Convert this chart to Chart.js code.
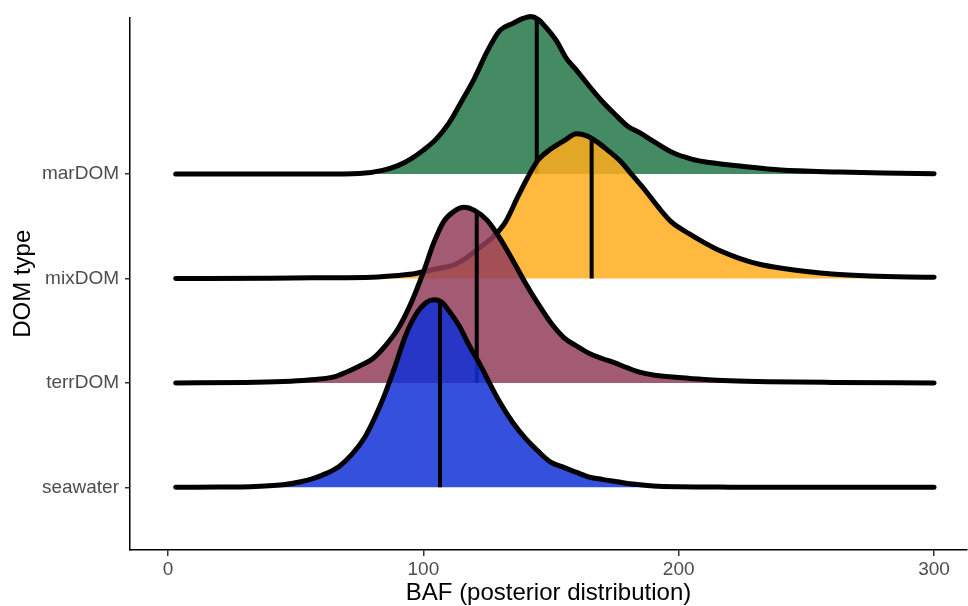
<!DOCTYPE html>
<html>
<head>
<meta charset="utf-8">
<script src="https://cdn.jsdelivr.net/npm/chart.js@4.4.1/dist/chart.umd.min.js"></script>
<style>
  html, body { margin: 0; padding: 0; background: #ffffff; }
  #wrap { width: 968px; height: 606px; }
</style>
</head>
<body>
<div id="wrap"><canvas id="c" width="968" height="606"></canvas></div>
<script>
// ---- data ----
const CATEGORIES = ['seawater', 'terrDOM', 'mixDOM', 'marDOM'];
const X_TICKS = [0, 100, 200, 300];

// relative posterior densities (sampled BAF values and heights)
const SEAWATER_X = [3, 20, 32, 45, 52, 57, 62, 67, 72, 77, 81, 85, 89, 93, 97, 101, 104, 107, 110, 114, 118, 122, 126, 130, 135, 140, 145, 150, 155, 160, 165, 170, 176, 183, 190, 200, 220, 300];
const SEAWATER_D = [0, 0.3, 0.6, 2.5, 5.6, 9, 14, 21, 33, 50, 70, 94, 122, 152, 173, 185, 188, 186, 177, 162, 142, 124, 104, 85, 65, 49, 36, 25, 20, 15, 10.3, 8, 5.6, 3, 1.3, 0.5, 0.2, 0];

const TERRDOM_X = [3, 30, 45, 55, 65, 70, 75, 80, 85, 90, 95, 100, 104, 108, 112, 116, 120, 125, 130, 135, 140, 145, 150, 155, 160, 165, 170, 175, 180, 185, 190, 200, 210, 220, 235, 260, 300];
const TERRDOM_D = [0, 0.5, 1.5, 3, 6, 11, 17, 24, 37, 54, 79, 111, 140, 162, 172, 176, 173, 163, 145, 123, 100, 79, 60, 45.5, 37, 29.5, 24.5, 20, 15, 10.5, 8, 5.5, 3.5, 2.2, 1.2, 0.5, 0];

const MIXDOM_X = [3, 40, 60, 80, 90, 97, 102, 107, 112, 117, 122, 127, 132, 137, 141, 145, 150, 155, 160, 164, 168, 172, 177, 182, 187, 192, 197, 204, 210, 216, 224, 232, 241, 250, 260, 275, 290, 300];
const MIXDOM_D = [0, 0.3, 0.7, 1.3, 3, 5, 8, 10.5, 13.5, 21, 31, 41, 56, 82, 102, 119, 130, 138, 145, 143, 137, 129, 118, 103, 88, 71.5, 57, 45, 36, 28, 20, 14, 10, 7, 4.5, 2.5, 1.5, 1.2];

const MARDOM_X = [3, 60, 75, 84, 90, 95, 100, 105, 110, 115, 120, 125, 130, 135, 139, 142, 145, 148, 152, 156, 160, 165, 170, 175, 180, 185, 190, 198, 205, 212, 224, 240, 263, 280, 300];
const MARDOM_D = [0, 0, 0.5, 3.7, 8.5, 15, 24, 35, 51, 73, 96, 123, 144, 151, 156, 158, 155, 147, 134, 116, 104, 88, 73, 60, 48, 41, 33, 21, 15, 11.5, 8, 4, 2, 1, 0.3];

// medians of the posterior distributions
const MEDIANS = [106.5, 120.9, 165.9, 144.4];

// ---- styling ----
const FILLS = ['rgba(18,49,215,0.85)', 'rgba(147,61,91,0.85)', 'rgba(255,173,28,0.85)', 'rgba(35,117,71,0.85)'];
const RIDGE_SCALE = 1 / 104.7;

const SERIES = [
  [SEAWATER_X, SEAWATER_D],
  [TERRDOM_X, TERRDOM_D],
  [MIXDOM_X, MIXDOM_D],
  [MARDOM_X, MARDOM_D]
];

function densityAt(xs, ds, v) {
  for (let i = 1; i < xs.length; i++) {
    if (v <= xs[i]) {
      const t = (v - xs[i - 1]) / (xs[i] - xs[i - 1]);
      return ds[i - 1] + t * (ds[i] - ds[i - 1]);
    }
  }
  return ds[ds.length - 1];
}

const datasets = [];
SERIES.forEach(([xs, ds], k) => {
  const base = k + 1;
  datasets.push({
    label: CATEGORIES[k] + ' median',
    data: [{ x: MEDIANS[k], y: base }, { x: MEDIANS[k], y: base + densityAt(xs, ds, MEDIANS[k]) * RIDGE_SCALE }],
    borderColor: '#000',
    borderWidth: 4,
    pointRadius: 0,
    fill: false,
    borderCapStyle: 'butt',
    clip: false,
    order: 2 * k
  });
  datasets.push({
    label: CATEGORIES[k],
    data: xs.map((x, i) => ({ x: x, y: base + ds[i] * RIDGE_SCALE })),
    borderColor: '#000',
    borderWidth: 5,
    backgroundColor: FILLS[k],
    fill: { value: base },
    pointRadius: 0,
    cubicInterpolationMode: 'monotone',
    borderCapStyle: 'round',
    borderJoinStyle: 'round',
    clip: false,
    order: 2 * k + 1
  });
});

Chart.defaults.font.family = "'Liberation Sans', Arial, sans-serif";

new Chart(document.getElementById('c'), {
  type: 'line',
  data: { datasets: datasets },
  options: {
    responsive: false,
    animation: false,
    events: [],
    layout: { padding: { top: 16, right: 1, bottom: 0, left: 0 } },
    plugins: {
      legend: { display: false },
      tooltip: { enabled: false },
      filler: { drawTime: 'beforeDatasetDraw' }
    },
    scales: {
      x: {
        type: 'linear',
        min: -14.9,
        max: 312.9,
        afterBuildTicks: s => { s.ticks = X_TICKS.map(v => ({ value: v })); },
        afterFit: s => { s.height = 56; },
        grid: { display: true, drawOnChartArea: false, drawTicks: true, tickLength: 6, color: '#333', lineWidth: 1.5 },
        border: { display: true, color: '#000', width: 1.5 },
        ticks: { color: '#4d4d4d', font: { size: 19 }, padding: 2, maxRotation: 0, autoSkip: false },
        title: { display: true, text: 'BAF (posterior distribution)', color: '#000', font: { size: 24, lineHeight: 1.05 }, padding: { top: 0, bottom: 0 } }
      },
      y: {
        type: 'linear',
        min: 0.4,
        max: 5.5,
        afterBuildTicks: s => { s.ticks = CATEGORIES.map((c, i) => ({ value: i + 1 })); },
        afterFit: s => { s.width = 130; },
        grid: { display: true, drawOnChartArea: false, drawTicks: true, tickLength: 5, color: '#333', lineWidth: 1.5 },
        border: { display: true, color: '#000', width: 1.5 },
        ticks: { color: '#4d4d4d', font: { size: 19 }, padding: 6, autoSkip: false, callback: v => CATEGORIES[Math.round(v) - 1] },
        title: { display: true, text: 'DOM type', color: '#000', font: { size: 24 }, padding: { top: 9, bottom: 0 } }
      }
    }
  }
});
</script>
</body>
</html>
